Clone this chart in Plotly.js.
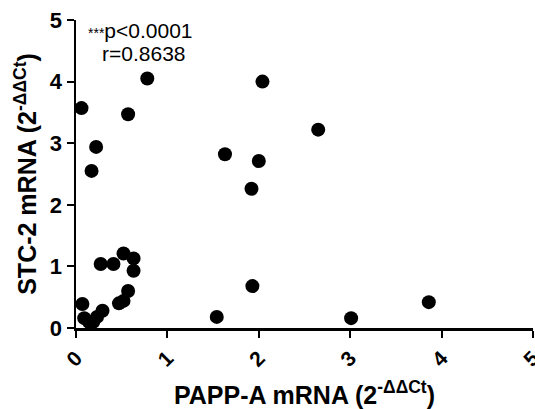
<!DOCTYPE html>
<html>
<head>
<meta charset="utf-8">
<script src="https://cdn.plot.ly/plotly-3.0.1.min.js"></script>
<style>html,body{margin:0;padding:0;background:#fff;}#chart{width:535px;height:409px;}</style>
</head>
<body>
<div id="chart"></div>
<script>
const pappA = [0.06, 0.78, 2.04, 0.57, 0.22, 0.17, 1.63, 2.00, 1.92, 2.65, 3.01, 3.86, 1.93, 1.54, 0.27, 0.41, 0.52, 0.63, 0.63, 0.57, 0.47, 0.52, 0.07, 0.29, 0.09, 0.14, 0.19, 0.23, 0.16];
const stc2  = [3.57, 4.05, 4.00, 3.47, 2.94, 2.55, 2.82, 2.71, 2.26, 3.22, 0.16, 0.42, 0.68, 0.18, 1.04, 1.04, 1.21, 1.13, 0.93, 0.60, 0.40, 0.44, 0.39, 0.28, 0.16, 0.10, 0.10, 0.18, 0.08];
const tickVals = [0, 1, 2, 3, 4, 5];
const tickText = ['0', '1', '2', '3', '4', '5'];

const fam = 'Arial, "Liberation Sans", sans-serif';

const trace = {
  x: pappA, y: stc2, type: 'scatter', mode: 'markers',
  marker: {size: 14, color: '#000'}, cliponaxis: false, hoverinfo: 'x+y'
};

const layout = {
  width: 535, height: 409,
  margin: {l: 76, r: 2, t: 20, b: 81},
  paper_bgcolor: '#fff', plot_bgcolor: '#fff',
  showlegend: false,
  font: {family: fam, color: '#000'},
  xaxis: {
    range: [0, 5], tickvals: tickVals, ticktext: tickText, tickangle: -45,
    ticklabeloverflow: 'allow',
    showgrid: false, zeroline: false, showline: true, linecolor: '#000', linewidth: 2.5,
    ticks: 'outside', ticklen: 7, tickwidth: 2, tickcolor: '#000',
    tickfont: {family: fam, size: 21, weight: 'bold', color: '#000'},
    title: {text: 'PAPP-A mRNA (2<sup>-ΔΔCt</sup>)', font: {family: fam, size: 25, weight: 'bold', color: '#000'}, standoff: 19}
  },
  yaxis: {
    range: [0, 5], tickvals: tickVals, ticktext: tickText,
    showgrid: false, zeroline: false, showline: true, linecolor: '#000', linewidth: 2.5,
    ticks: 'outside', ticklen: 7, tickwidth: 2, tickcolor: '#000',
    tickfont: {family: fam, size: 22, weight: 'bold', color: '#000'},
    title: {text: 'STC-2 mRNA (2<sup>-ΔΔCt</sup>)', font: {family: fam, size: 25, weight: 'bold', color: '#000'}, standoff: 6}
  },
  annotations: [
    {xref: 'paper', yref: 'paper', x: 0.022, y: 0.965, xanchor: 'left', yanchor: 'middle', showarrow: false,
     text: '<span style="font-size:14px">***</span>p&lt;0.0001', font: {family: fam, size: 21, color: '#000'}},
    {xref: 'paper', yref: 'paper', x: 0.052, y: 0.89, xanchor: 'left', yanchor: 'middle', showarrow: false,
     text: 'r=0.8638', font: {family: fam, size: 21, color: '#000'}}
  ]
};

Plotly.newPlot('chart', [trace], layout, {displayModeBar: false, staticPlot: true});
</script>
</body>
</html>
